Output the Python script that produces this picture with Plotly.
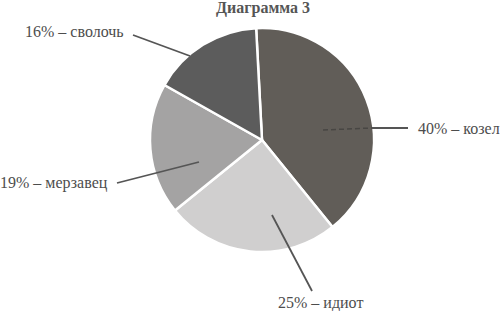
import plotly.graph_objects as go

# ---- data ----
categories = ["козел", "идиот", "мерзавец", "сволочь"]
values = [40, 25, 19, 16]
title_text = "Диаграмма 3"

# ---- styles ----
slice_colors = ["#615d58", "#d0cfcf", "#a4a3a3", "#5c5c5c"]
text_color = "#4d4d4d"
line_color = "#555555"
FONT = "Liberation Serif, Times New Roman, serif"

W, H = 500, 311


def P(px, py):
    """pixel -> paper coords"""
    return px / W, 1 - py / H


# pie placement (pixels): centre (262,140), radius 112
cx, cy, R = 262, 140, 112
x0, y1 = P(cx - R, cy - R)
x1, y0 = P(cx + R, cy + R)

fig = go.Figure(
    go.Pie(
        labels=categories,
        values=values,
        sort=False,
        direction="clockwise",
        rotation=-3,
        marker=dict(colors=slice_colors, line=dict(color="white", width=2.5)),
        textinfo="none",
        hoverinfo="label+percent",
        showlegend=False,
        domain=dict(x=[x0, x1], y=[y0, y1]),
    )
)

# leader lines (pixel geometry): (start, end, dash, color, width)
leaders = [
    ((323, 130), (372, 128), "5px,3px", "#484643", 1.5),
    ((372, 128), (408, 128), "solid", line_color, 1.8),
    ((272, 215), (312, 291), "solid", line_color, 1.8),
    ((199, 162), (117, 183), "solid", line_color, 1.8),
    ((190, 56), (133, 35), "solid", line_color, 1.8),
]
shapes = []
for (ax_, ay_), (bx_, by_), dash, col, lw in leaders:
    xa, ya = P(ax_, ay_)
    xb, yb = P(bx_, by_)
    shapes.append(dict(type="line", xref="paper", yref="paper",
                       x0=xa, y0=ya, x1=xb, y1=yb,
                       line=dict(color=col, width=lw, dash=dash)))

# label anchors (pixels) with anchor side
label_pos = [
    (416, 128, "left"),    # козел
    (320, 303, "center"),  # идиот
    (110, 183, "right"),   # мерзавец
    (23, 31, "left"),      # сволочь
]
annotations = []
for cat, v, (lx, ly, anc) in zip(categories, values, label_pos):
    xp, yp = P(lx, ly)
    annotations.append(dict(
        x=xp, y=yp, xref="paper", yref="paper",
        text=f"{v}% – {cat}", showarrow=False,
        xanchor=anc, yanchor="middle",
        font=dict(family=FONT, size=16, color=text_color),
    ))
tx, ty = P(263, 8)
annotations.append(dict(
    x=tx, y=ty, xref="paper", yref="paper",
    text=f"<b>{title_text}</b>", showarrow=False,
    xanchor="center", yanchor="middle",
    font=dict(family=FONT, size=16, color="#555555"),
))

fig.update_layout(
    width=W, height=H,
    margin=dict(l=0, r=0, t=0, b=0),
    paper_bgcolor="white",
    plot_bgcolor="white",
    shapes=shapes,
    annotations=annotations,
)

fig.write_html("out.html")
